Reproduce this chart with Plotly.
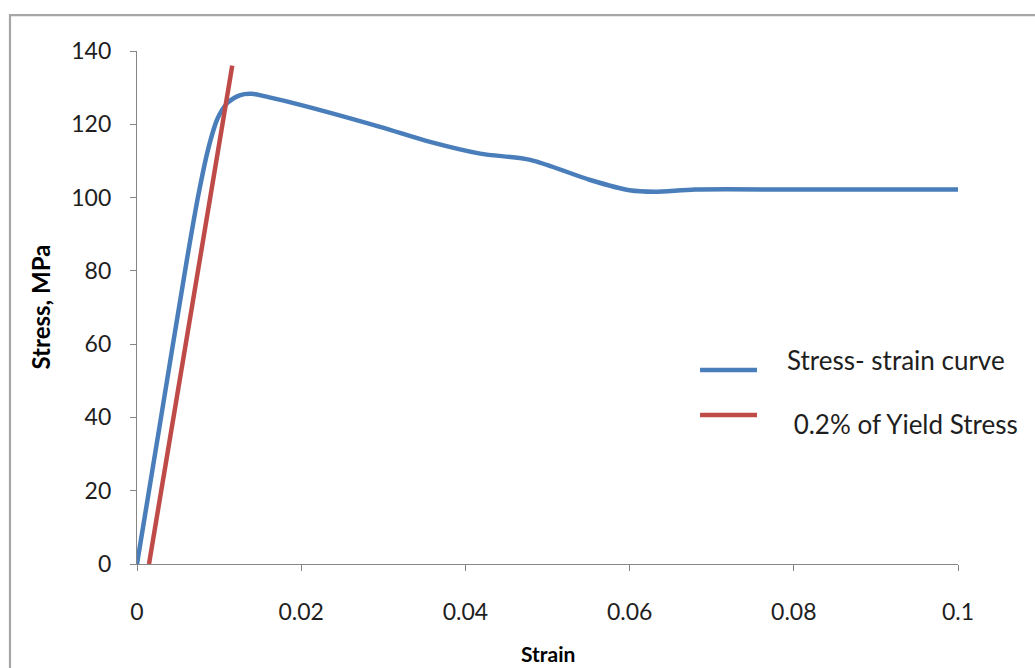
import plotly.graph_objects as go

# Measured stress-strain curve
strain = [0, 0.003, 0.006, 0.0075, 0.0087, 0.0098, 0.011, 0.0125, 0.014, 0.016,
          0.0199, 0.0296, 0.0357, 0.0418, 0.0479, 0.0552, 0.060, 0.063, 0.068,
          0.080, 0.090, 0.100]
stress = [0, 41, 82, 101, 113.5, 121.5, 125.8, 127.9, 128.3, 127.4,
          125.3, 119.3, 115.2, 112.0, 110.3, 104.8, 102.0, 101.6, 102.2,
          102.2, 102.2, 102.2]

# 0.2% offset line
offset_strain = [0.00146, 0.0116]
offset_stress = [0, 136]

x_ticks = [0, 0.02, 0.04, 0.06, 0.08, 0.1]
x_tick_text = ["0", "0.02", "0.04", "0.06", "0.08", "0.1"]
y_ticks = [0, 20, 40, 60, 80, 100, 120, 140]

series_names = ["Stress- strain curve", " 0.2% of Yield Stress"]
blue = "#4A7EBB"
red = "#BE4B48"
font_family = "Lato, 'Open Sans', sans-serif"
axis_grey = "#868686"

fig = go.Figure()
fig.add_trace(go.Scatter(
    x=strain, y=stress, mode="lines", name=series_names[0],
    line=dict(color=blue, width=4.5, shape="spline", smoothing=0.8),
    cliponaxis=False, showlegend=False))
fig.add_trace(go.Scatter(
    x=offset_strain, y=offset_stress, mode="lines", name=series_names[1],
    line=dict(color=red, width=4.5),
    cliponaxis=False, showlegend=False))

axis_common = dict(
    showgrid=False, zeroline=False, showline=True, linecolor=axis_grey, linewidth=1.3,
    ticks="outside", ticklen=6, tickcolor=axis_grey, tickwidth=1.3,
    tickfont=dict(family=font_family, size=23, color="#1E1E1E"),
)
fig.update_xaxes(range=[0, 0.1], tickvals=x_ticks, ticktext=x_tick_text,
                 ticklabelstandoff=21, **axis_common)
fig.update_yaxes(range=[0, 140], tickvals=y_ticks,
                 ticklabelstandoff=14, **axis_common)

# Outer chart frame
fig.add_shape(type="rect", xref="paper", yref="paper",
              x0=-0.1547, x1=1.12, y0=-0.24, y1=1.070,
              line=dict(color="#A6A6A6", width=2.2), fillcolor="rgba(0,0,0,0)", layer="below")

# Axis titles
fig.add_annotation(text="<b>Stress, MPa</b>", xref="paper", yref="paper",
                   x=-0.1181, y=0.5, textangle=-90, showarrow=False,
                   xanchor="center", yanchor="middle",
                   font=dict(family=font_family, size=24, color="#000000"))
fig.add_annotation(text="<b>Strain</b>", xref="paper", yref="paper",
                   x=0.5, y=-0.1735, showarrow=False,
                   xanchor="center", yanchor="middle",
                   font=dict(family=font_family, size=21, color="#000000"))

# Legend entries
legend_rows = [
    (series_names[0], blue, 0.3782, 0.7893, 0.3977),
    (series_names[1], red, 0.2904, 0.7893, 0.2729),
]
for name, color, line_y, text_x, text_y in legend_rows:
    fig.add_shape(type="line", xref="paper", yref="paper",
                  x0=0.6858, x1=0.7552, y0=line_y, y1=line_y,
                  line=dict(color=color, width=4.5))
    fig.add_annotation(text=name.replace(" ", "&nbsp;", 1) if name.startswith(" ") else name,
                       xref="paper", yref="paper", x=text_x, y=text_y,
                       showarrow=False, xanchor="left", yanchor="middle",
                       font=dict(family=font_family, size=26, color="#1E1E1E"))

fig.update_layout(
    width=1035, height=668,
    margin=dict(l=137, r=77, t=51, b=104),
    paper_bgcolor="white", plot_bgcolor="white",
)

fig.write_html("out.html")
